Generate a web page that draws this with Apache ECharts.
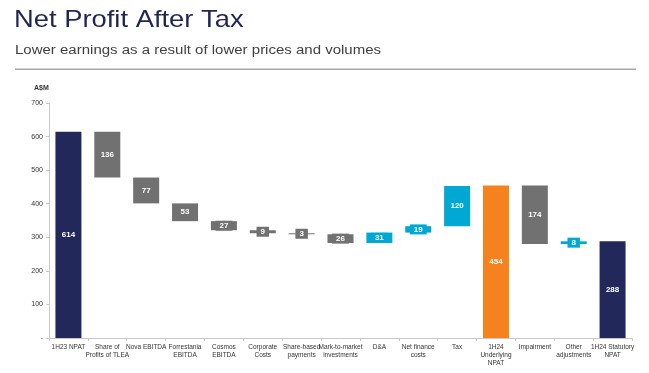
<!DOCTYPE html>
<html><head><meta charset="utf-8">
<script src="https://cdn.jsdelivr.net/npm/echarts@6/dist/echarts.min.js"></script>
<style>html,body{margin:0;padding:0;background:#fff}#c{width:649px;height:373px}</style>
</head><body><div id="c"></div>
<script>
var categories = ['1H23 NPAT','Share of\nProfits of TLEA','Nova EBITDA','Forrestania\nEBITDA','Cosmos\nEBITDA','Corporate\nCosts','Share-based\npayments','Mark-to-market\ninvestments','D&A','Net finance\ncosts','Tax','1H24\nUnderlying\nNPAT','Impairment','Other\nadjustments','1H24 Statutory\nNPAT'];
var values = [614, -136, -77, -53, -27, -9, -3, -26, 31, 19, 120, 454, -174, 8, 288];
var kinds = ['total','delta','delta','delta','delta','delta','delta','delta','delta','delta','delta','total','delta','delta','total'];
var labels = ['614','136','77','53','27','9','3','26','31','19','120','454','174','8','288'];
var yTicks = [0,100,200,300,400,500,600,700];

var NAVY='#23285a', GREY='#717171', BLUE='#00a8d3', ORANGE='#f5821f';
var base=[], body=[], run=0;
for (var i=0;i<values.length;i++){
  var v=values[i], col, lo, hi;
  if(kinds[i]==='total'){ lo=0; hi=v; run=v; col=(i===11)?ORANGE:NAVY; }
  else { var s=run, e=run+v; lo=Math.min(s,e); hi=Math.max(s,e); run=e; col=v<0?GREY:BLUE; }
  base.push(lo);
  body.push({value:hi-lo, itemStyle:{color:col},
    label:{show:true, formatter:labels[i], backgroundColor:col, color:'#fff', fontWeight:'bold', fontSize:8, lineHeight:8, padding:[1,4], fontFamily:'Liberation Sans, Arial'}});
}
var chart=echarts.init(document.getElementById('c'),null,{renderer:'canvas'});
chart.setOption({
  animation:false,
  grid:{left:49,right:17,top:103,bottom:35,containLabel:false},
  graphic:[
    {type:'text',x:14,y:8,scaleX:1.14,style:{text:'Net Profit After Tax',font:'24px "Liberation Sans", Arial',fill:'#1f2655'}},
    {type:'text',x:15,y:44,scaleX:1.2,style:{text:'Lower earnings as a result of lower prices and volumes',font:'12.5px "Liberation Sans", Arial',fill:'#404040'}},
    {type:'rect',shape:{x:15,y:68.5,width:621,height:1.6},style:{fill:'#a8a8a8'}},
    {type:'text',x:34,y:85,style:{text:'A$M',font:'bold 7px "Liberation Sans", Arial',fill:'#333'}}
  ],
  xAxis:{type:'category',data:categories,
    axisLine:{lineStyle:{color:'#c8c8c8'}},
    axisTick:{show:true,length:3,lineStyle:{color:'#c8c8c8'}},
    axisLabel:{interval:0,fontSize:6.5,lineHeight:8,color:'#333',margin:5,fontFamily:'Liberation Sans, Arial'}},
  yAxis:{type:'value',min:0,max:700,interval:100,
    axisLine:{show:true,lineStyle:{color:'#c8c8c8'}},
    axisTick:{show:true,length:3,lineStyle:{color:'#c8c8c8'}},
    splitLine:{show:false},
    axisLabel:{fontSize:7,color:'#333',margin:6,fontFamily:'Liberation Sans, Arial',
      formatter:function(v){return v===0?'-':String(v);}}},
  series:[
    {type:'bar',stack:'w',data:base,itemStyle:{color:'transparent'},barWidth:26,silent:true},
    {type:'bar',stack:'w',data:body,barWidth:26,label:{position:'inside'}}
  ]
});
</script></body></html>
